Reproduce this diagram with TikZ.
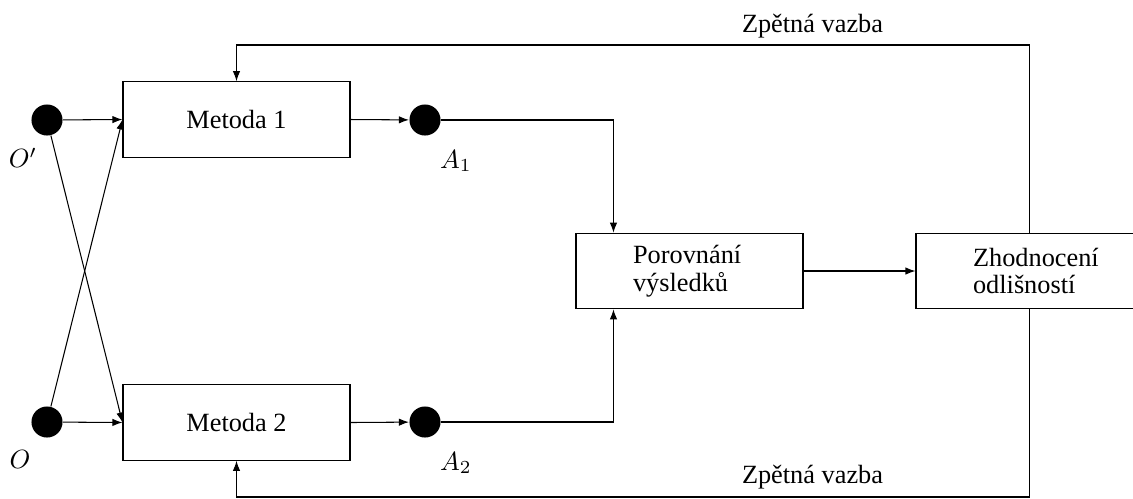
\documentclass[tikz,border=0pt]{standalone}
\usepackage{fontspec}
\setmainfont{Liberation Serif}
\usetikzlibrary{arrows.meta,calc}

\begin{document}
\begin{tikzpicture}[
  x=0.38pt, y=-0.38pt,
  >={Latex[length=3.8pt,width=2.8pt]},
  line width=0.4pt,
  every node/.style={font=\fontsize{10pt}{10.6pt}\selectfont},
  block/.style={draw, minimum width=86.26pt, minimum height=28.7pt, inner sep=0pt},
  textblock/.style={block, text width=42.9pt, align=left},
  dot/.style={circle, fill=black, minimum size=11.8pt, inner sep=0pt},
  lbl/.style={inner sep=0pt}
]
\useasboundingbox (0,0) rectangle (1133,498);
\clip (0,0) rectangle (1133,498);

% sources
\node[dot] (Op) at (47,120) {};
\node[dot] (O)  at (47,422) {};
\node[lbl] at (23,158) {$O'$};
\node[lbl] at (20,459) {$O$};

% methods
\node[block] (M1) at (236.5,119.5) {Metoda 1};
\node[block] (M2) at (236.5,422.5) {Metoda 2};

% results
\node[dot] (A1) at (425,120) {};
\node[dot] (A2) at (425,422) {};
\node[lbl] at (456,161) {$A_1$};
\node[lbl] at (456,463) {$A_2$};

% comparison and evaluation
\node[textblock] (P) at (689.5,271) {Porovnání\\výsledků};
\node[textblock] (Z) at (1029.5,271) {Zhodnocení\\odlišností};

% feedback routing points
\coordinate (fbtop) at (1029.5,45);
\coordinate (fbbot) at (1029.5,497);
\coordinate (Pin1) at ($(P.north west)!1/6!(P.north east)$);
\coordinate (Pin2) at ($(P.south west)!1/6!(P.south east)$);

% inputs
\draw[->] (Op) -- (M1.west);
\draw[->] (Op) -- (M2.west);
\draw[->] (O)  -- (M2.west);
\draw[->] (O)  -- (M1.west);

% outputs
\draw[->] (M1.east) -- (A1);
\draw[->] (M2.east) -- (A2);
\draw[->] (A1) -| (Pin1);
\draw[->] (A2) -| (Pin2);
\draw[->] (P) -- (Z);

% feedback loops
\draw[->] (Z.north) -- (fbtop) -| (M1.north);
\draw[->] (Z.south) -- (fbbot) -| (M2.south);
\node[lbl, anchor=base] at (812.5,32) {Zpětná vazba};
\node[lbl, anchor=base] at (812.5,483) {Zpětná vazba};
\end{tikzpicture}
\end{document}
